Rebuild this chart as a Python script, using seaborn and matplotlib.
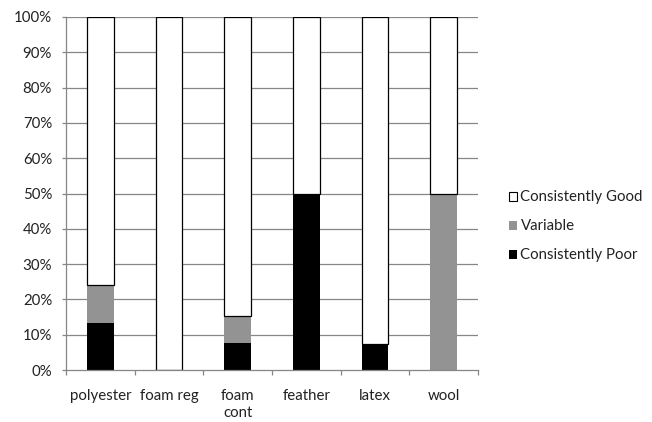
import matplotlib
matplotlib.use("Agg")
import matplotlib.pyplot as plt
from matplotlib.patches import Patch
from matplotlib.ticker import FixedLocator, PercentFormatter
import seaborn as sns
import pandas as pd
import numpy as np

# Share of ratings per fill material (percent)
materials = ["polyester", "foam reg", "foam cont", "feather", "latex", "wool"]
tick_labels = ["polyester", "foam reg", "foam\ncont", "feather", "latex", "wool"]
poor = [13.3, 0.0, 7.7, 50.0, 7.4, 0.0]
variable = [10.7, 0.0, 7.7, 0.0, 0.0, 50.0]
good = [76.0, 100.0, 84.6, 50.0, 92.6, 50.0]

sns.set_theme(style="white")
plt.rcParams["font.family"] = ["Lato", "DejaVu Sans"]

df = pd.DataFrame({"material": materials, "poor": poor,
                   "variable": variable, "good": good})
df["material"] = pd.Categorical(df["material"], categories=materials, ordered=True)
base_var = np.array(poor)
base_good = np.array(poor) + np.array(variable)

fig = plt.figure(figsize=(6.52, 4.22), dpi=100)
ax = fig.add_axes([66 / 652, 52 / 422, 412 / 652, 353 / 422])

ax.set_axisbelow(True)
for y in range(10, 101, 10):
    ax.axhline(y, color="#868686", lw=0.9, zorder=0)

bw = 0.39
sns.barplot(data=df, x="material", y="poor", order=materials, color="black",
            width=bw, saturation=1, linewidth=0, ax=ax, zorder=2)
sns.barplot(data=df, x="material", y="variable", order=materials, color="#939393",
            width=bw, saturation=1, linewidth=0, bottom=base_var, ax=ax, zorder=2)
sns.barplot(data=df, x="material", y="good", order=materials, color="white",
            width=bw, saturation=1, edgecolor="black", linewidth=0.9,
            bottom=base_good, ax=ax, zorder=2)

ax.set_xlim(-0.5, 5.5)
ax.set_ylim(0, 100)
ax.yaxis.set_major_locator(FixedLocator(range(0, 101, 10)))
ax.yaxis.set_major_formatter(PercentFormatter(decimals=0))
ax.set_xticks(range(len(materials)))
ax.set_xticklabels(tick_labels)
ax.xaxis.set_minor_locator(FixedLocator(np.arange(-0.5, 6, 1)))
ax.set_xlabel("")
ax.set_ylabel("")

for side in ["top", "right"]:
    ax.spines[side].set_visible(False)
for side in ["left", "bottom"]:
    ax.spines[side].set_color("#868686")
    ax.spines[side].set_linewidth(0.9)

fs = 10.8
ax.tick_params(axis="y", which="major", left=True, length=3, width=0.9,
               color="#868686", pad=7, labelsize=fs, labelcolor="#222222")
ax.tick_params(axis="x", which="major", bottom=False, length=0, pad=14,
               labelsize=fs, labelcolor="#222222")
ax.tick_params(axis="x", which="minor", bottom=True, length=3.5, width=0.9,
               color="#868686")
for lbl in ax.get_xticklabels():
    lbl.set_linespacing(1.25)

handles = [
    Patch(facecolor="white", edgecolor="black", linewidth=0.8, label="Consistently Good"),
    Patch(facecolor="#939393", edgecolor="none", label="Variable"),
    Patch(facecolor="black", edgecolor="none", label="Consistently Poor"),
]
fig.legend(handles=handles, loc="upper left", bbox_to_anchor=(501 / 652, 1 - 183 / 422),
           frameon=False, fontsize=fs, handlelength=0.55, handleheight=0.55,
           handletextpad=0.25, labelspacing=1.0, labelcolor="#222222",
           borderpad=0)

fig.savefig("out.png", dpi=100, facecolor="white")
